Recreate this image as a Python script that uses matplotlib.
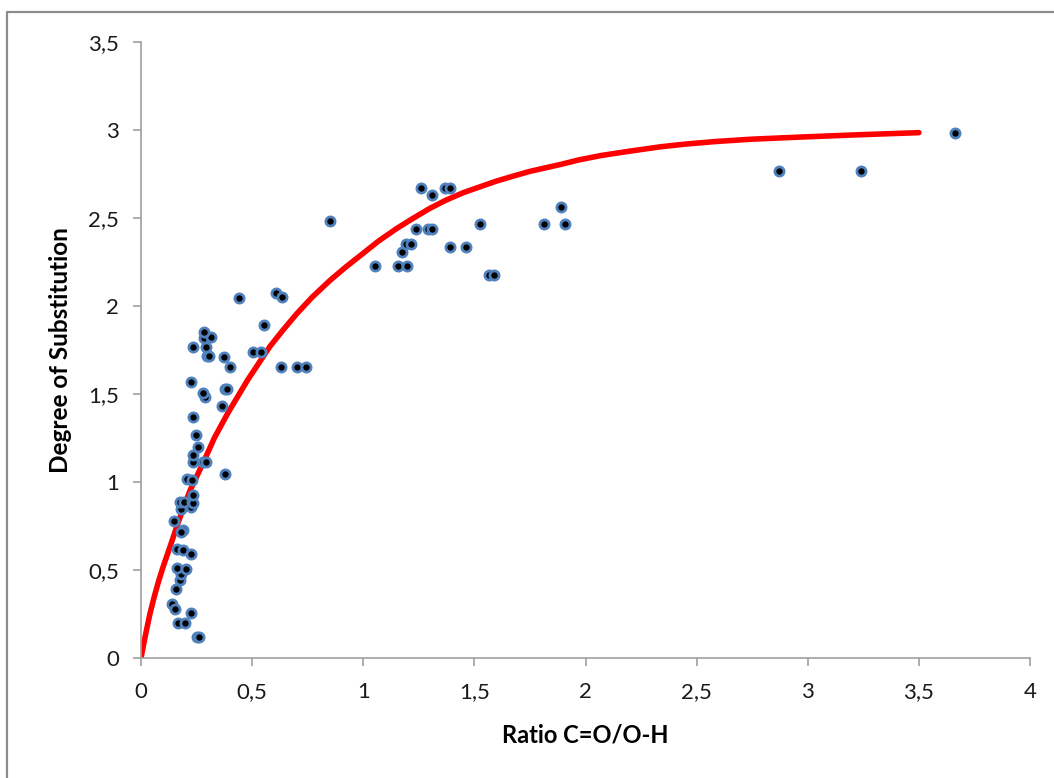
import matplotlib
matplotlib.use("Agg")
import matplotlib.pyplot as plt
from matplotlib.lines import Line2D
from matplotlib.ticker import FuncFormatter, MultipleLocator

# measured points: ratio C=O/O-H vs degree of substitution
ratio = [0.254, 0.263, 0.168, 0.198, 0.141, 0.153, 0.225, 0.158, 0.176, 0.179,
         0.164, 0.201, 0.161, 0.188, 0.225, 0.188, 0.179, 0.150, 0.180, 0.224,
         0.176, 0.194, 0.228, 0.236, 0.233, 0.206, 0.228, 0.378, 0.233, 0.281,
         0.293, 0.233, 0.258, 0.246, 0.233, 0.366, 0.288, 0.281, 0.378, 0.389,
         0.227, 0.400, 0.628, 0.700, 0.742, 0.373, 0.296, 0.307, 0.506, 0.541,
         0.233, 0.291, 0.285, 0.315, 0.285, 0.555, 0.440, 0.607, 0.634, 0.851,
         1.054, 1.156, 1.198, 1.568, 1.590, 1.174, 1.194, 1.215, 1.389, 1.461,
         1.237, 1.290, 1.309, 1.527, 1.815, 1.910, 1.889, 1.308, 1.261, 1.369,
         1.389, 2.869, 3.240, 3.662]
ds = [0.121, 0.121, 0.201, 0.201, 0.307, 0.278, 0.254, 0.392, 0.443, 0.476,
      0.510, 0.504, 0.619, 0.614, 0.591, 0.727, 0.714, 0.777, 0.845, 0.860,
      0.888, 0.888, 0.888, 0.882, 0.926, 1.019, 1.011, 1.044, 1.112, 1.112,
      1.112, 1.152, 1.197, 1.267, 1.369, 1.432, 1.481, 1.506, 1.528, 1.528,
      1.566, 1.652, 1.652, 1.652, 1.652, 1.710, 1.718, 1.716, 1.739, 1.739,
      1.769, 1.769, 1.820, 1.826, 1.850, 1.892, 2.044, 2.076, 2.053, 2.483,
      2.227, 2.227, 2.227, 2.176, 2.176, 2.307, 2.352, 2.352, 2.337, 2.337,
      2.438, 2.438, 2.438, 2.468, 2.468, 2.468, 2.562, 2.629, 2.672, 2.672,
      2.672, 2.767, 2.767, 2.985]

# fitted curve
fit_x = [0, 0.02, 0.04, 0.06, 0.08, 0.10, 0.13, 0.17, 0.22, 0.28, 0.33, 0.39,
         0.48, 0.58, 0.64, 0.70, 0.77, 0.85, 0.92, 1.00, 1.07, 1.15, 1.22, 1.30,
         1.37, 1.45, 1.52, 1.60, 1.68, 1.75, 1.82, 1.89, 1.97, 2.07, 2.20, 2.34,
         2.45, 2.59, 2.75, 2.97, 3.21, 3.50]
fit_y = [0, 0.13, 0.25, 0.35, 0.44, 0.52, 0.63, 0.78, 0.95, 1.11, 1.25, 1.39,
         1.58, 1.77, 1.865, 1.955, 2.05, 2.145, 2.22, 2.30, 2.37, 2.44, 2.495,
         2.555, 2.60, 2.644, 2.675, 2.71, 2.74, 2.765, 2.785, 2.805, 2.83, 2.855,
         2.88, 2.905, 2.92, 2.935, 2.948, 2.96, 2.972, 2.985]

W, H = 1054, 778
fig = plt.figure(figsize=(W / 100, H / 100), dpi=100)
ax = fig.add_axes([141 / W, 1 - 658 / H, 889 / W, 616 / H])

ax.plot(fit_x, fit_y, color="#ff0000", lw=4, solid_capstyle="round",
        solid_joinstyle="round", zorder=2)
ax.plot(ratio, ds, "o", ms=6.6, mfc="black", mec="#4f81bd", mew=2.0,
        linestyle="none", zorder=3)

ax.set_xlim(0, 4)
ax.set_ylim(0, 3.5)
ax.xaxis.set_major_locator(MultipleLocator(0.5))
ax.yaxis.set_major_locator(MultipleLocator(0.5))
comma = FuncFormatter(lambda v, p: ("%g" % v).replace(".", ","))
ax.xaxis.set_major_formatter(comma)
ax.yaxis.set_major_formatter(comma)

grey = "#a0a0a0"
for s in ["top", "right"]:
    ax.spines[s].set_visible(False)
for s in ["left", "bottom"]:
    ax.spines[s].set_color(grey)
    ax.spines[s].set_linewidth(1.2)
ax.tick_params(direction="out", length=6, width=1.2, color=grey,
               labelsize=16, labelcolor="#1a1a1a")
ax.tick_params(axis="x", pad=11)
ax.tick_params(axis="y", pad=10)
for lab in ax.get_xticklabels() + ax.get_yticklabels():
    lab.set_family("Lato")

ax.set_xlabel("Ratio C=O/O-H", fontsize=17, fontweight="bold", family="Lato",
              va="center")
ax.set_ylabel("Degree of Substitution", fontsize=17.5, fontweight="bold",
              family="Lato", va="center")
ax.xaxis.set_label_coords(0.5, -0.125)
ax.yaxis.set_label_coords(-0.091, 0.5)

# outer chart frame (only left and top visible in the crop)
fig.add_artist(Line2D([7 / W, 7 / W, 1.01], [-0.01, 1 - 12 / H, 1 - 12 / H],
                      transform=fig.transFigure, color="#8c8c8c", lw=1.6))

fig.savefig("out.png", dpi=100)
